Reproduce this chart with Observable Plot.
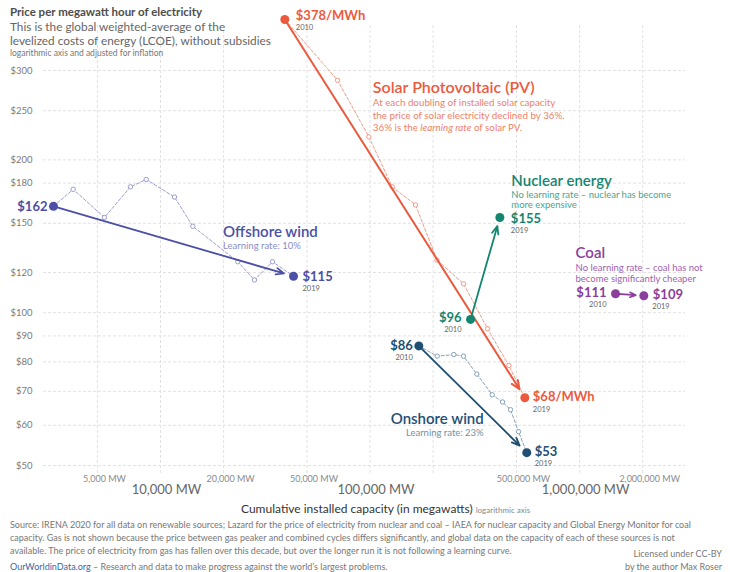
<!DOCTYPE html>
<html><head><meta charset="utf-8">
<script src="https://cdn.jsdelivr.net/npm/d3@7"></script>
<script src="https://cdn.jsdelivr.net/npm/@observablehq/plot@0.6"></script>
<style>
body{margin:0;background:#fff;font-family:Lato,"Noto Sans",sans-serif;}
#wrap{position:relative;width:730px;height:572px;overflow:hidden;background:#fff;}
#chart{position:absolute;left:0;top:0;}
.t{position:absolute;white-space:nowrap;}
.f{position:absolute;white-space:nowrap;left:10px;font-size:9px;line-height:13px;color:#777;}
</style></head><body>
<div id="wrap">
<div id="chart"></div>
<div class="t" style="left:10px;top:5px;font-size:11.5px;line-height:14px;font-weight:700;color:#4d4d4d">Price per megawatt hour of electricity</div>
<div class="t" style="left:10px;top:19.5px;font-size:11.8px;line-height:14.5px;color:#666">This is the global weighted-average of the<br>levelized costs of energy (LCOE), without subsidies</div>
<div class="t" style="left:10px;top:47.5px;font-size:8.5px;line-height:10px;color:#777">logarithmic axis and adjusted for inflation</div>
<div class="t" style="left:241px;top:502px;font-size:12px;line-height:14px;color:#333">Cumulative installed capacity (in megawatts) <span style="font-size:8px;color:#888">logarithmic axis</span></div>
<div class="f" style="top:518px">Source: IRENA 2020 for all data on renewable sources; Lazard for the price of electricity from nuclear and coal – IAEA for nuclear capacity and Global Energy Monitor for coal<br>capacity. Gas is not shown because the price between gas peaker and combined cycles differs significantly, and global data on the capacity of each of these sources is not<br>available. The price of electricity from gas has fallen over this decade, but over the longer run it is not following a learning curve.</div>
<div class="f" style="top:560px"><span style="color:#3b67a8">OurWorldinData.org</span> – Research and data to make progress against the world’s largest problems.</div>
<div class="f" style="top:547px;left:auto;right:8px;text-align:right">Licensed under CC-BY<br>by the author Max Roser</div>
</div>
<script>
// ---- data ----
const solarMW = [39200, 69950, 98700, 127600, 164800, 208700, 279300, 363600, 459500, 547800];
const solarPrice = [378, 287, 222, 177, 163, 127, 114, 93, 78.7, 68];
const onshoreMW = [170900, 209200, 251000, 279300, 323300, 382900, 428700, 468200, 511000, 559500];
const onshorePrice = [86, 82.1, 82.7, 82.1, 75.7, 68.9, 66.7, 64.4, 58.3, 53];
const offshoreMW = [3085, 3830, 5400, 7190, 8550, 11660, 14260, 23380, 28090, 34240, 43130];
const offshorePrice = [162, 175, 154, 177, 183, 169, 148, 126, 116, 126, 118];
const nuclearMW = [301700, 416300];
const nuclearPrice = [97, 154];
const coalMW = [1484000, 2025000];
const coalPrice = [109, 108];

const solarLabels = ["$378/MWh", "$68/MWh"];
const onshoreLabels = ["$86", "$53"];
const offshoreLabels = ["$162", "$115"];
const nuclearLabels = ["$96", "$155"];
const coalLabels = ["$111", "$109"];
const yearLabels = ["2010", "2019"];

const yTicks = [50, 60, 70, 80, 90, 100, 120, 150, 180, 200, 250, 300];
const xMinorTicks = [5000, 20000, 50000, 500000, 2000000];
const xMajorTicks = [10000, 100000, 1000000];
const xGridTicks = [5000, 10000, 20000, 50000, 100000, 200000, 500000, 1000000, 2000000];

// ---- build ----
const series = (mw, p) => mw.map((x, i) => ({x, y: p[i]}));
const solar = series(solarMW, solarPrice);
const onshore = series(onshoreMW, onshorePrice);
const offshore = series(offshoreMW, offshorePrice);
const nuclear = series(nuclearMW, nuclearPrice);
const coal = series(coalMW, coalPrice);
const first = a => a[0], last = a => a[a.length - 1];
const fmt = d3.format(",");

function seriesMarks(data, color, light, dashed, sw, insetEnd, headLength) {
  const ms = [];
  if (dashed) {
    ms.push(Plot.line(data, {x: "x", y: "y", stroke: light, strokeWidth: 1, strokeDasharray: "3,2"}));
    ms.push(Plot.dot(data.slice(1, -1), {x: "x", y: "y", r: 2.2, fill: "white", stroke: light, strokeWidth: 1}));
  }
  ms.push(Plot.arrow([{a: first(data), b: last(data)}], {
    x1: d => d.a.x, y1: d => d.a.y, x2: d => d.b.x, y2: d => d.b.y,
    stroke: color, strokeWidth: sw, headLength, headAngle: 45, insetStart: 2, insetEnd
  }));
  ms.push(Plot.dot([first(data), last(data)], {x: "x", y: "y", r: 4.5, fill: color}));
  return ms;
}
const lbl = (pt, text, o) => Plot.text([pt], {x: "x", y: "y", text: () => text, ...o});
const val = (pt, text, color, dx, dy, anchor = "start") =>
  lbl(pt, text, {dx, dy, textAnchor: anchor, fill: color, fontSize: 13, fontWeight: 700});
const yr = (pt, text, dx, dy, anchor = "start") =>
  lbl(pt, text, {dx, dy, textAnchor: anchor, fill: "#666", fontSize: 7.5});

const C = {
  solar: "#ec5a3e", solarL: "#f39a88", solarD: "#f07f68",
  off: "#4b4fa6", offL: "#9a9dd2", offD: "#8b8ec8",
  nuc: "#14866f", nucD: "#45a68f",
  coal: "#8b3e9b", coalD: "#a062b0",
  on: "#1f4f73", onL: "#86a1b8", onD: "#7390a8"
};

const chart = Plot.plot({
  width: 730, height: 510,
  marginTop: 25, marginBottom: 35, marginLeft: 43, marginRight: 45,
  style: {fontFamily: "Lato, sans-serif", background: "transparent"},
  x: {type: "log", domain: [10000, 1000000], range: [160, 579.1], axis: null},
  y: {type: "log", domain: [50, 300], range: [465, 70], axis: null},
  marks: [
    Plot.ruleY(yTicks, {stroke: "#e2e2e2", strokeDasharray: "3,2"}),
    Plot.ruleX(xGridTicks, {stroke: "#e2e2e2", strokeDasharray: "3,2"}),
    Plot.text(yTicks, {y: d => d, frameAnchor: "left", text: d => "$" + d, textAnchor: "end", dx: -11, fontSize: 9.5, fill: "#7a7a7a"}),
    Plot.text(xMinorTicks, {x: d => d, frameAnchor: "bottom", text: d => fmt(d) + " MW", dx: 7, dy: 6, fontSize: 9, fill: "#8a8a8a"}),
    Plot.text(xMajorTicks, {x: d => d, frameAnchor: "bottom", text: d => fmt(d) + " MW", dx: 6, dy: 18, fontSize: 13, fill: "#666"}),

    ...seriesMarks(offshore, C.off, C.offL, true, 1.8, 10, 7),
    ...seriesMarks(onshore, C.on, C.onL, true, 1.8, 10, 7),
    ...seriesMarks(solar, C.solar, C.solarL, true, 2, 10, 7),
    ...seriesMarks(nuclear, C.nuc, null, false, 1.8, 9, 7),
    ...seriesMarks(coal, C.coal, null, false, 1.6, 8, 6),

    // solar
    val(first(solar), solarLabels[0], C.solar, 11, -3.5),
    yr(first(solar), yearLabels[0], 11, 8.5),
    val(last(solar), solarLabels[1], C.solar, 8, -0.5),
    yr(last(solar), yearLabels[1], 8, 11.5),
    lbl(first(solar), "Solar Photovoltaic (PV)", {dx: 88, dy: 68, textAnchor: "start", fill: C.solar, fontSize: 16, fontWeight: 600}),
    lbl(first(solar), "At each doubling of installed solar capacity\nthe price of solar electricity declined by 36%.\n36% is the learning rate of solar PV.",
        {dx: 88, dy: 95, textAnchor: "start", fill: C.solarD, fontSize: 9.8, lineHeight: 1.27}),

    // offshore
    val(first(offshore), offshoreLabels[0], C.off, -6, 0, "end"),
    val(last(offshore), offshoreLabels[1], C.off, 9, 0.5),
    yr(last(offshore), yearLabels[1], 9, 12.5),
    lbl(last(offshore), "Offshore wind", {dx: -70.5, dy: -44, textAnchor: "start", fill: C.off, fontSize: 15, fontWeight: 600}),
    lbl(last(offshore), "Learning rate: 10%", {dx: -70.5, dy: -30.5, textAnchor: "start", fill: C.offD, fontSize: 9.5}),

    // nuclear
    val(first(nuclear), nuclearLabels[0], C.nuc, -9, -2, "end"),
    yr(first(nuclear), yearLabels[0], -9, 10, "end"),
    val(last(nuclear), nuclearLabels[1], C.nuc, 11, 1.5),
    yr(last(nuclear), yearLabels[1], 11, 13),
    lbl(last(nuclear), "Nuclear energy", {dx: 11.5, dy: -36, textAnchor: "start", fill: C.nuc, fontSize: 15, fontWeight: 600}),
    lbl(last(nuclear), "No learning rate – nuclear has become\nmore expensive", {dx: 11.5, dy: -18, textAnchor: "start", fill: C.nucD, fontSize: 9.5, lineHeight: 1.06}),

    // coal
    val(first(coal), coalLabels[0], C.coal, -9, -0.5, "end"),
    yr(first(coal), yearLabels[0], -9, 11, "end"),
    val(last(coal), coalLabels[1], C.coal, 9, -0.5),
    yr(last(coal), yearLabels[1], 8.5, 11),
    lbl(first(coal), "Coal", {dx: -40, dy: -40.5, textAnchor: "start", fill: C.coal, fontSize: 15, fontWeight: 600}),
    lbl(first(coal), "No learning rate – coal has not\nbecome significantly cheaper", {dx: -40, dy: -20.5, textAnchor: "start", fill: C.coalD, fontSize: 9.5, lineHeight: 1.15}),

    // onshore
    val(first(onshore), onshoreLabels[0], C.on, -6, 0, "end"),
    yr(first(onshore), yearLabels[0], -6, 11.5, "end"),
    val(last(onshore), onshoreLabels[1], C.on, 8, -0.5),
    yr(last(onshore), yearLabels[1], 8, 11),
    lbl(last(onshore), "Onshore wind", {dx: -43, dy: -33, textAnchor: "end", fill: C.on, fontSize: 15, fontWeight: 600}),
    lbl(last(onshore), "Learning rate: 23%", {dx: -43, dy: -20, textAnchor: "end", fill: C.onD, fontSize: 9.5})
  ]
});

// italic "learning rate" in the solar note
const NS = "http://www.w3.org/2000/svg";
chart.querySelectorAll("tspan, text").forEach(el => {
  if (el.childElementCount === 0 && el.textContent === "36% is the learning rate of solar PV.") {
    el.textContent = "";
    el.append("36% is the ");
    const it = document.createElementNS(NS, "tspan");
    it.setAttribute("font-style", "italic");
    it.textContent = "learning rate";
    el.append(it);
    el.append(" of solar PV.");
  }
});
document.getElementById("chart").append(chart);
</script>
</body></html>
